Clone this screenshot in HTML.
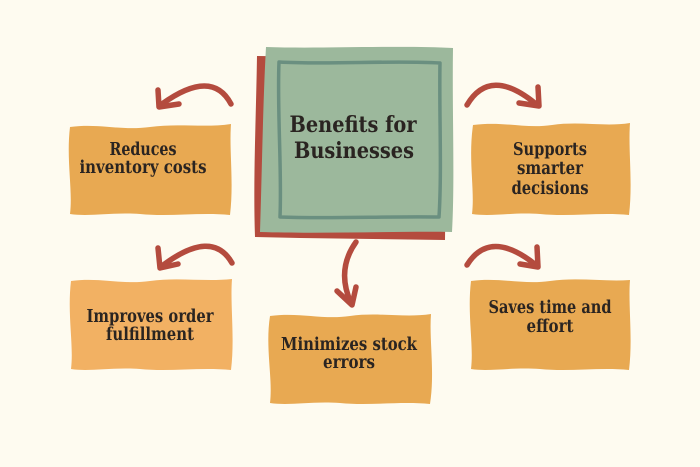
<!DOCTYPE html>
<html>
<head>
<meta charset="utf-8">
<style>
html,body{margin:0;padding:0;background:#fefbf0;}
svg{display:block;}
text{font-family:"DejaVu Serif","Liberation Serif",serif;font-weight:bold;fill:#2a2421;}
</style>
</head>
<body>
<svg width="700" height="467" viewBox="0 0 700 467" xmlns="http://www.w3.org/2000/svg">
<rect x="0" y="0" width="700" height="467" fill="#fefbf0"/>

<!-- center box -->
<path d="M257,56 L445,58 L446,150 L445,240 L300,238 L255,237 C253,180 256,120 257,56 Z" fill="#b44b3e"/>
<path d="M266,47 C320,49 400,45 453,48 C452,110 455,180 452,232 C400,231 320,234 260,232 C262,170 263,100 266,47 Z" fill="#9cb89c"/>
<path d="M279,62 C330,65 390,60 440,63 C439,110 442,170 439,217 C390,216 330,219 280,217 C282,170 277,110 279,62 Z" fill="none" stroke="#6a8f80" stroke-width="3.5" stroke-linejoin="round"/>
<text x="353" y="132" font-size="22" text-anchor="middle" textLength="127" lengthAdjust="spacingAndGlyphs">Benefits for</text>
<text x="354" y="158" font-size="22" text-anchor="middle" textLength="120" lengthAdjust="spacingAndGlyphs">Businesses</text>

<!-- box 1 -->
<path d="M70,127 C100,123 120,131 150,127 C178,123 205,128 231,124 C229,150 234,182 230,215 C200,212 170,217 140,214 C110,212 90,217 70,214 C73,190 66,160 70,127 Z" fill="#e8a952"/>
<text x="143" y="155" font-size="17.5" text-anchor="middle" textLength="67" lengthAdjust="spacingAndGlyphs">Reduces</text>
<text x="143" y="173" font-size="17.5" text-anchor="middle" textLength="127" lengthAdjust="spacingAndGlyphs">inventory costs</text>

<!-- box 2 -->
<path d="M473,125 C505,121 525,129 552,125 C580,121 605,127 630,123 C628,150 633,182 629,215 C600,212 570,217 540,214 C512,212 492,217 472,214 C475,190 468,160 473,125 Z" fill="#e8a952"/>
<text x="550" y="155" font-size="17.5" text-anchor="middle" textLength="74" lengthAdjust="spacingAndGlyphs">Supports</text>
<text x="550" y="174" font-size="17.5" text-anchor="middle" textLength="66" lengthAdjust="spacingAndGlyphs">smarter</text>
<text x="550" y="194" font-size="17.5" text-anchor="middle" textLength="77" lengthAdjust="spacingAndGlyphs">decisions</text>

<!-- box 3 -->
<path d="M71,281 C100,277 122,285 150,281 C178,277 205,282 232,279 C230,305 235,338 231,370 C200,367 170,372 140,369 C110,367 90,372 71,369 C74,345 67,315 71,281 Z" fill="#f2b163"/>
<text x="150" y="322" font-size="17.5" text-anchor="middle" textLength="127" lengthAdjust="spacingAndGlyphs">Improves order</text>
<text x="150" y="340" font-size="17.5" text-anchor="middle" textLength="88" lengthAdjust="spacingAndGlyphs">fulfillment</text>

<!-- box 4 -->
<path d="M270,316 C300,312 322,320 350,316 C378,312 405,318 431,314 C429,340 435,372 430,404 C400,401 370,406 340,403 C310,401 290,406 270,403 C273,378 265,348 270,316 Z" fill="#e8a952"/>
<text x="349" y="350" font-size="17.5" text-anchor="middle" textLength="136" lengthAdjust="spacingAndGlyphs">Minimizes stock</text>
<text x="349" y="368" font-size="17.5" text-anchor="middle" textLength="52" lengthAdjust="spacingAndGlyphs">errors</text>

<!-- box 5 -->
<path d="M471,281 C500,277 522,285 550,281 C578,277 605,282 630,280 C628,305 633,338 629,370 C600,367 570,372 540,369 C510,367 490,372 471,369 C474,345 467,315 471,281 Z" fill="#e8a952"/>
<text x="550" y="313" font-size="17.5" text-anchor="middle" textLength="123" lengthAdjust="spacingAndGlyphs">Saves time and</text>
<text x="550" y="332" font-size="17.5" text-anchor="middle" textLength="47" lengthAdjust="spacingAndGlyphs">effort</text>

<!-- arrows -->
<g fill="none" stroke="#b44b3e" stroke-width="5.5" stroke-linecap="round" stroke-linejoin="round">
  <path d="M231,104 Q212,68 162,104"/>
  <path d="M158,90 L159,107 L179,104"/>

  <path d="M467,105 Q490,66 536,104"/>
  <path d="M538,87 L539,106 L519,103"/>

  <path d="M232,263 Q212,228 162,266"/>
  <path d="M158,248 L160,268 L178,264"/>

  <path d="M356,242 Q336,270 351,303"/>
  <path d="M337,291 L352,305 L356,287"/>

  <path d="M467,265 Q490,228 536,265"/>
  <path d="M537,247 L538,267 L520,264"/>
</g>
</svg>
</body>
</html>
